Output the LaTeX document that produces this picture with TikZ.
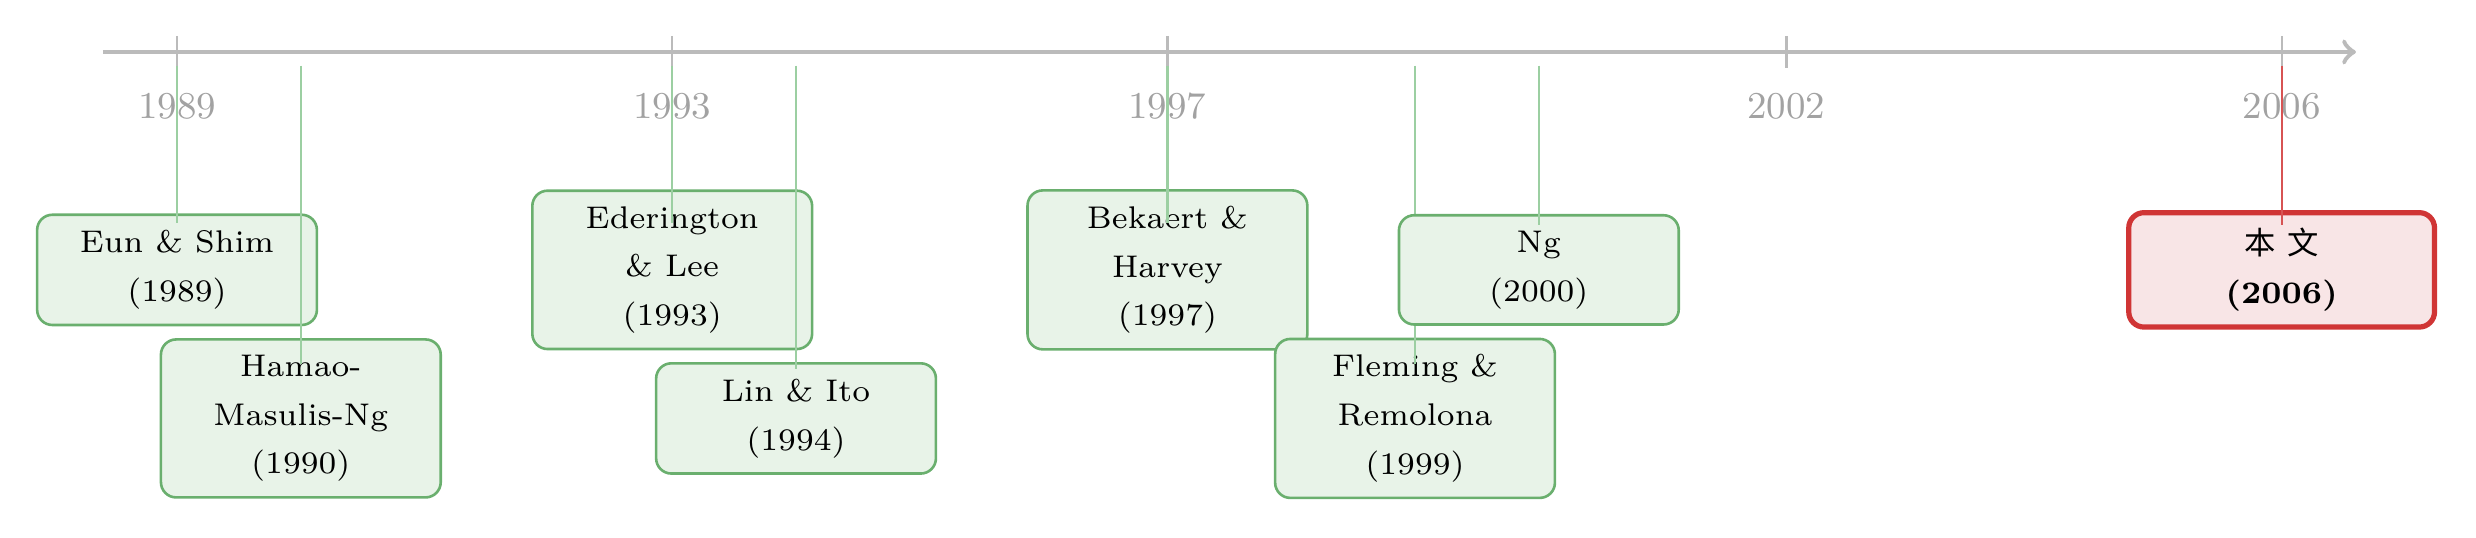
\documentclass[tikz,border=0pt]{standalone}
\usepackage{fontspec}
\newfontfamily\cjk{Noto Sans CJK SC}
\usepackage{xcolor}
\definecolor{AxisGrey}{HTML}{BBBBBB}
\definecolor{YearGrey}{HTML}{A2A2A2}
\definecolor{PaperGreen}{HTML}{6AAF6E}
\definecolor{PaperFill}{HTML}{E8F3E8}
\definecolor{LinkGreen}{HTML}{9CCFA2}
\definecolor{OwnRed}{HTML}{D03535}
\definecolor{OwnFill}{HTML}{F8E5E6}
\usetikzlibrary{positioning, calc}
\tikzstyle{paper} = [rectangle, draw=PaperGreen, fill=PaperFill, text=black, minimum width=2.26cm, inner ysep=3.6pt, rounded corners=3.5pt, line width=0.6pt, align=center, font=\fontsize{7.2}{11.2}\selectfont]
\tikzstyle{ownpaper} = [paper, draw=OwnRed, fill=OwnFill, line width=1.2pt, minimum width=2.47cm]
\tikzstyle{yeartick} = [AxisGrey, line width=0.5pt]
\tikzstyle{yearlabel} = [text=YearGrey, font=\fontsize{8.7}{11}\selectfont]
\tikzstyle{link} = [LinkGreen, line width=0.5pt]
\tikzstyle{ownlink} = [OwnRed!85, line width=0.45pt]

\begin{document}
\begin{tikzpicture}
    \useasboundingbox (-1.43,-3.92) rectangle (18.57,0.42);

    % Time axis
    \coordinate (start) at (-0.6,0);
    \coordinate (end) at (17.6,0);
    \draw [AxisGrey, line width=1.1pt, ->] (start) -- (end);

    % Ticks and years
    \draw [yeartick] (0,0.13) -- (0,-0.13);
    \draw [yeartick] (4,0.13) -- (4,-0.13);
    \draw [yeartick] (8,0.13) -- (8,-0.13);
    \draw [yeartick] (13,0.13) -- (13,-0.13);
    \draw [yeartick] (17,0.13) -- (17,-0.13);
    \node [yearlabel] (y1989) at (0,-0.44) {1989};
    \node [yearlabel] (y1993) at (4,-0.44) {1993};
    \node [yearlabel] (y1997) at (8,-0.44) {1997};
    \node [yearlabel] (y2002) at (13,-0.44) {2002};
    \node [yearlabel] (y2006) at (17,-0.44) {2006};

    % Link starts
    \coordinate (c89) at (0,-0.11);
    \coordinate (c90) at (1,-0.11);
    \coordinate (c93) at (4,-0.11);
    \coordinate (c94) at (5,-0.11);
    \coordinate (c97) at (8,-0.11);
    \coordinate (c99) at (10,-0.11);
    \coordinate (c00) at (11,-0.11);
    \coordinate (c06) at (17,-0.11);

    % Papers
    \node [paper] (eun) at (0,-1.76) {Eun \& Shim \\ (1989)};
    \draw [link] (c89) -- ([yshift=0.38cm]eun.center);
    \node [paper] (hamao) at (1,-2.96) {Hamao- \\ Masulis-Ng \\ (1990)};
    \draw [link] (c90) -- ([yshift=0.44cm]hamao.center);
    \node [paper] (eder) at (4,-1.76) {Ederington \\ \& Lee \\ (1993)};
    \draw [link] (c93) -- ([yshift=0.38cm]eder.center);
    \node [paper] (lin) at (5,-2.96) {Lin \& Ito \\ (1994)};
    \draw [link] (c94) -- ([yshift=0.4cm]lin.center);
    \node [paper] (bek) at (8,-1.76) {Bekaert \& \\ Harvey \\ (1997)};
    \draw [link] (c97) -- ([yshift=0.38cm]bek.center);
    \node [paper] (flem) at (10,-2.96) {Fleming \& \\ Remolona \\ (1999)};
    \draw [link] (c99) -- ([yshift=0.44cm]flem.center);
    \node [paper] (ng) at (11,-1.76) {Ng \\ (2000)};
    \draw [link] (c00) -- ([yshift=0.36cm]ng.center);

    % This paper
    \node [ownpaper] (own) at (17,-1.76) {{\cjk 本\hspace{0.4em}文} \\ \textbf{(2006)}};
    \draw [ownlink] (c06) -- ([yshift=0.36cm]own.center);
\end{tikzpicture}
\end{document}
